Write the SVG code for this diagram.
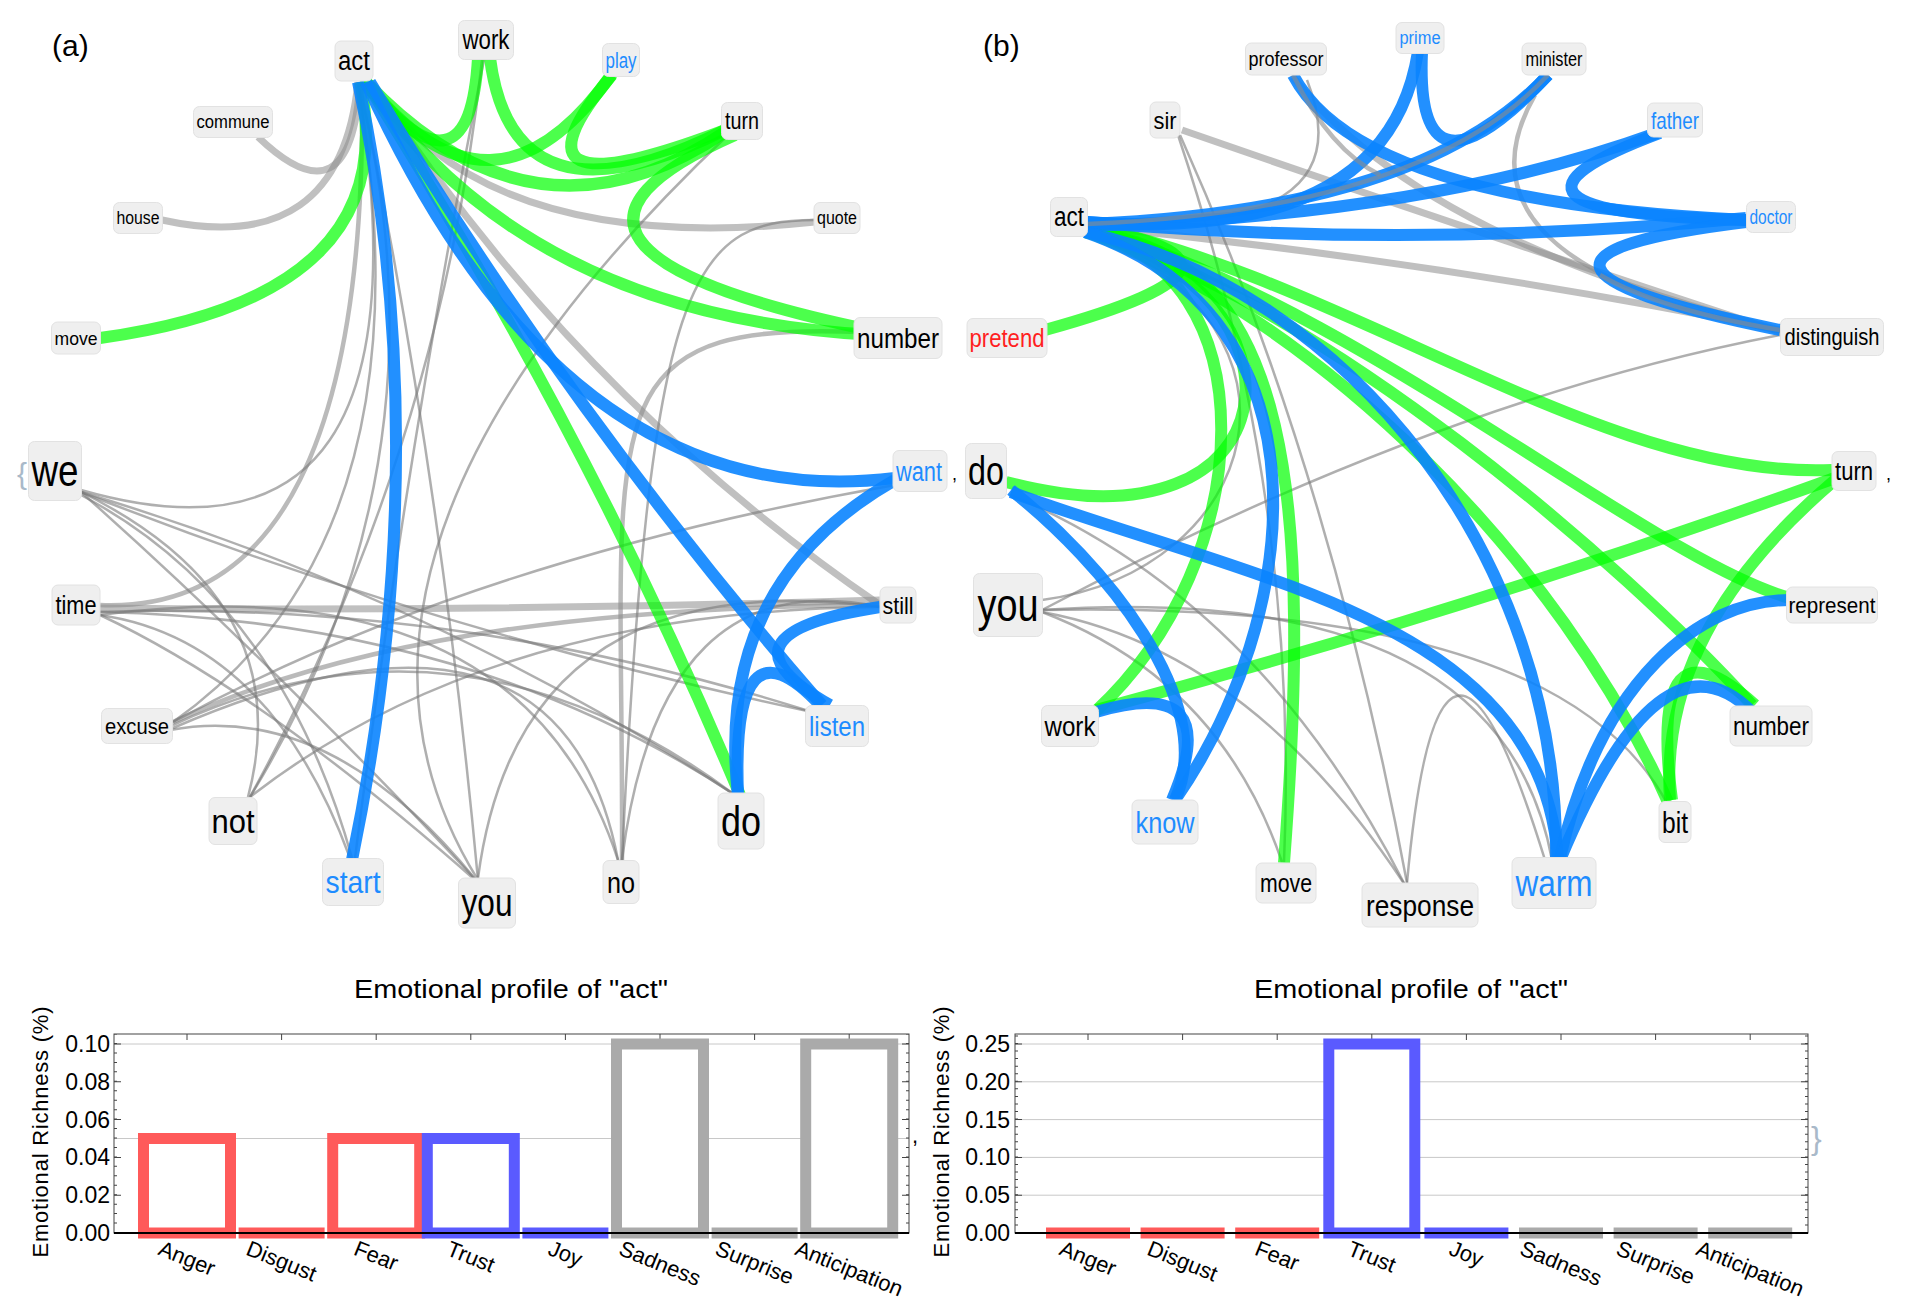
<svg xmlns="http://www.w3.org/2000/svg" width="1912" height="1315" viewBox="0 0 1912 1315">
<style>
.g{fill:none;stroke:#00ff00;stroke-opacity:.7;stroke-width:12}
.b{fill:none;stroke:#0a84ff;stroke-opacity:.9;stroke-width:12}
.gt{fill:none;stroke:#8c8c8c;stroke-opacity:.55;stroke-width:7}
.gm{fill:none;stroke:#8c8c8c;stroke-opacity:.6;stroke-width:4.5}
.gn{fill:none;stroke:#7a7a7a;stroke-opacity:.6;stroke-width:2.5}
.box{fill:#efefef;stroke:#e2e2e2;stroke-width:1}
text{font-family:"Liberation Sans",Arial,sans-serif}
.n{text-anchor:middle;fill:#000}
.nb{text-anchor:middle;fill:#1e8cff}
.nr{text-anchor:middle;fill:#ff1f1f}
.tk{font-size:23px;text-anchor:end;fill:#000}
.cat{font-size:22px;text-anchor:middle;fill:#000}
.frame{fill:none;stroke:#444;stroke-width:1}
.grid{stroke:#c8c8c8;stroke-width:1}
</style>
<rect width="1912" height="1315" fill="#fff"/>

<!-- ================= PANEL (a) ================= -->
<g id="edges-a">
 <path class="gt" d="M372,84 Q487,257 815,222"/>
 <path class="gt" d="M372,84 Q574,395 880,605"/>
 <path class="gt" d="M258,137 Q351,226 360,82"/>
 <path class="gt" d="M162,220 Q340,259 358,82"/>
 <path class="gt" d="M100,608 Q480,612 880,600"/>
 <path class="gm" d="M100,605 Q369,616 362,82"/>
 <path class="gm" d="M173,722 Q414,607 880,605"/>
 <path class="gm" d="M860,332 C580,320 624,420 622,860"/>
 <path class="gn" d="M815,220 C690,220 650,280 622,860"/>
 <path class="gn" d="M358,84 Q440,593 81,490"/>
 <path class="gn" d="M358,84 Q435,537 173,722"/>
 <path class="gn" d="M358,84 Q456,460 250,797"/>
 <path class="gn" d="M360,84 Q440,470 478,880"/>
 <path class="gn" d="M728,135 Q280,560 478,880"/>
 <path class="gn" d="M484,60 Q410,430 355,858"/>
 <path class="gn" d="M482,60 Q440,450 250,797"/>
 <path class="gn" d="M81,492 Q270,660 476,880"/>
 <path class="gn" d="M81,492 Q432,597 735,795"/>
 <path class="gn" d="M81,492 Q430,630 812,712"/>
 <path class="gn" d="M100,612 Q460,600 812,712"/>
 <path class="gn" d="M100,612 Q470,620 735,795"/>
 <path class="gn" d="M100,615 Q260,690 475,880"/>
 <path class="gn" d="M100,615 Q520,560 618,860"/>
 <path class="gn" d="M100,615 Q270,640 350,858"/>
 <path class="gn" d="M173,722 Q470,560 895,485"/>
 <path class="gn" d="M170,730 Q330,700 476,880"/>
 <path class="gn" d="M250,797 Q490,610 880,607"/>
 <path class="gn" d="M248,797 Q300,600 81,492"/>
 <path class="gn" d="M478,878 Q520,560 880,607"/>
 <path class="gn" d="M622,860 Q660,560 880,607"/>
 <path class="gn" d="M618,860 Q560,560 173,728"/>
 <path class="gn" d="M352,858 Q280,600 81,495"/>
 <path class="gn" d="M735,795 Q460,590 173,725"/>

 <path class="g" d="M360,82 Q406,296 100,338"/>
 <path class="g" d="M366,82 Q591,439 740,795"/>
 <path class="g" d="M366,82 Q528,317 875,335"/>
 <path class="g" d="M366,82 Q535,260 725,132"/>
 <path class="g" d="M364,80 Q492,243 612,74"/>
 <path class="g" d="M362,80 Q469,211 478,58"/>
 <path class="g" d="M490,58 Q513,236 725,130"/>
 <path class="g" d="M612,75 Q492,218 725,130"/>
 <path class="g" d="M735,135 Q478,248 870,330"/>

 <path class="b" d="M358,82 Q437,449 352,860"/>
 <path class="b" d="M366,82 Q564,519 895,478"/>
 <path class="b" d="M370,82 Q564,407 822,705"/>
 <path class="b" d="M895,480 Q714,583 738,795"/>
 <path class="b" d="M880,607 Q705,634 830,705"/>
 <path class="b" d="M738,795 Q731,610 820,705"/>
</g>

<g id="a-act"><rect class="box" x="335" y="41" width="38" height="40" rx="6"/><text class="n" x="354" y="70" font-size="27" textLength="32" lengthAdjust="spacingAndGlyphs">act</text></g>
<g id="a-work"><rect class="box" x="458.5" y="20.5" width="55" height="39" rx="6"/><text class="n" x="486" y="49" font-size="27" textLength="47" lengthAdjust="spacingAndGlyphs">work</text></g>
<g id="a-play"><rect class="box" x="602.5" y="43.5" width="37" height="33" rx="6"/><text class="nb" x="621" y="68" font-size="22" textLength="31" lengthAdjust="spacingAndGlyphs">play</text></g>
<g id="a-turn"><rect class="box" x="721.5" y="102.5" width="41" height="37" rx="6"/><text class="n" x="742" y="129" font-size="24" textLength="34" lengthAdjust="spacingAndGlyphs">turn</text></g>
<g id="a-commune"><rect class="box" x="193.5" y="106.5" width="79" height="31" rx="6"/><text class="n" x="233" y="128" font-size="18" textLength="73" lengthAdjust="spacingAndGlyphs">commune</text></g>
<g id="a-house"><rect class="box" x="113.5" y="202.5" width="49" height="31" rx="6"/><text class="n" x="138" y="224" font-size="18" textLength="43" lengthAdjust="spacingAndGlyphs">house</text></g>
<g id="a-quote"><rect class="box" x="814" y="202.5" width="46" height="31" rx="6"/><text class="n" x="837" y="224" font-size="18" textLength="40" lengthAdjust="spacingAndGlyphs">quote</text></g>
<g id="a-move"><rect class="box" x="51.5" y="322" width="49" height="32" rx="6"/><text class="n" x="76" y="344.5" font-size="19" textLength="43" lengthAdjust="spacingAndGlyphs">move</text></g>
<g id="a-number"><rect class="box" x="854" y="317.5" width="88" height="41" rx="6"/><text class="n" x="898" y="348" font-size="28" textLength="82" lengthAdjust="spacingAndGlyphs">number</text></g>
<g id="a-we"><rect class="box" x="28.5" y="441.5" width="53" height="59" rx="6"/><text class="n" x="55" y="486" font-size="44" textLength="47" lengthAdjust="spacingAndGlyphs">we</text></g>
<g id="a-want"><rect class="box" x="893" y="450.5" width="54" height="41" rx="6"/><text class="nb" x="919" y="480.5" font-size="27" textLength="46" lengthAdjust="spacingAndGlyphs">want</text></g>
<g id="a-time"><rect class="box" x="52" y="585" width="48" height="40" rx="6"/><text class="n" x="76" y="614" font-size="26" textLength="41" lengthAdjust="spacingAndGlyphs">time</text></g>
<g id="a-still"><rect class="box" x="880" y="587" width="36" height="36" rx="6"/><text class="n" x="898" y="613.5" font-size="24" textLength="31" lengthAdjust="spacingAndGlyphs">still</text></g>
<g id="a-excuse"><rect class="box" x="101.5" y="708.5" width="71" height="35" rx="6"/><text class="n" x="137" y="733.5" font-size="22" textLength="64" lengthAdjust="spacingAndGlyphs">excuse</text></g>
<g id="a-listen"><rect class="box" x="805.5" y="705.5" width="63" height="41" rx="6"/><text class="nb" x="837" y="735.5" font-size="27" textLength="56" lengthAdjust="spacingAndGlyphs">listen</text></g>
<g id="a-not"><rect class="box" x="209" y="797.5" width="48" height="47" rx="6"/><text class="n" x="233" y="833" font-size="34" textLength="43" lengthAdjust="spacingAndGlyphs">not</text></g>
<g id="a-do"><rect class="box" x="718" y="793" width="46" height="56" rx="6"/><text class="n" x="741" y="835.5" font-size="42" textLength="40" lengthAdjust="spacingAndGlyphs">do</text></g>
<g id="a-start"><rect class="box" x="322.5" y="858.5" width="61" height="47" rx="6"/><text class="nb" x="353" y="893" font-size="32" textLength="55" lengthAdjust="spacingAndGlyphs">start</text></g>
<g id="a-you"><rect class="box" x="458.5" y="878" width="57" height="50" rx="6"/><text class="n" x="487" y="916" font-size="38" textLength="51" lengthAdjust="spacingAndGlyphs">you</text></g>
<g id="a-no"><rect class="box" x="603" y="860.5" width="36" height="43" rx="6"/><text class="n" x="621" y="892.5" font-size="30" textLength="28" lengthAdjust="spacingAndGlyphs">no</text></g>

<!-- ================= PANEL (b) ================= -->
<g id="edges-b">
 <path class="gt" d="M1087,226 Q1430,260 1780,330"/>
 <path class="gt" d="M1182,130 Q1470,230 1780,332"/>
 <path class="gt" d="M1293,77 Q1420,240 1780,330"/>
 <path class="gm" d="M1535,95 Q1440,260 1780,332"/>
 <path class="gn" d="M1307,80 Q1370,240 1087,222"/>
 <path class="gn" d="M1180,135 Q1330,470 1407,883"/>
 <path class="gn" d="M1178,135 Q1300,500 1284,862"/>
 <path class="gn" d="M1042,610 Q1440,400 1780,335"/>
 <path class="gn" d="M1042,600 C1260,570 1330,330 1087,232"/>
 <path class="gn" d="M1042,610 Q1560,600 1668,805"/>
 <path class="gn" d="M1042,610 Q1500,580 1552,860"/>
 <path class="gn" d="M1042,612 Q1250,650 1405,885"/>
 <path class="gn" d="M1042,612 Q1220,680 1282,862"/>
 <path class="gn" d="M1407,883 Q1440,520 1545,860"/>
 <path class="gn" d="M1011,495 Q1260,600 1405,885"/>

 <path class="g" d="M1085,228 Q1295,261 1045,330"/>
 <path class="g" d="M1085,230 C1320,290 1300,560 1006,482"/>
 <path class="g" d="M1085,232 C1300,250 1310,520 1284,863"/>
 <path class="g" d="M1085,232 C1270,270 1260,560 1095,712"/>
 <path class="g" d="M1087,226 C1350,280 1600,480 1832,470"/>
 <path class="g" d="M1087,228 C1350,300 1650,560 1790,598"/>
 <path class="g" d="M1087,230 C1330,310 1620,560 1752,705"/>
 <path class="g" d="M1087,232 C1320,320 1560,560 1668,802"/>
 <path class="g" d="M1835,478 Q1470,610 1096,710"/>
 <path class="g" d="M1835,480 Q1658,630 1670,800"/>
 <path class="g" d="M1672,800 Q1647,608 1755,705"/>

 <path class="b" d="M1087,222 Q1387,244 1418,52"/>
 <path class="b" d="M1548,75 Q1423,210 1087,224"/>
 <path class="b" d="M1422,52 Q1415,217 1548,75"/>
 <path class="b" d="M1293,75 Q1360,202 1746,220"/>
 <path class="b" d="M1657,133 Q1428,216 1087,226"/>
 <path class="b" d="M1660,133 Q1447,213 1746,220"/>
 <path class="b" d="M1087,222 Q1420,250 1746,218"/>
 <path class="b" d="M1746,222 Q1437,260 1780,330"/>
 <path class="b" d="M1085,232 C1350,290 1560,560 1556,858"/>
 <path class="b" d="M1175,800 C1300,620 1340,320 1085,232"/>
 <path class="b" d="M1096,712 Q1226,674 1172,800"/>
 <path class="b" d="M1011,490 C1100,560 1220,700 1175,800"/>
 <path class="b" d="M1011,492 C1250,580 1540,620 1558,858"/>
 <path class="b" d="M1789,600 C1700,600 1600,680 1560,858"/>
 <path class="b" d="M1752,712 Q1660,620 1560,860"/>

 <path class="gm" d="M1548,75 Q1423,210 1087,224" stroke-opacity=".5"/>
 <path class="gm" d="M1293,75 Q1330,150 1380,175" stroke-opacity=".5"/>
 <path class="gm" d="M1600,275 Q1660,310 1780,330" stroke-opacity=".5"/>
</g>

<g id="b-prime"><rect class="box" x="1396" y="22.5" width="48" height="31" rx="6"/><text class="nb" x="1420" y="44" font-size="18" textLength="41" lengthAdjust="spacingAndGlyphs">prime</text></g>
<g id="b-professor"><rect class="box" x="1245.5" y="43" width="81" height="32" rx="6"/><text class="n" x="1286" y="66" font-size="20" textLength="75" lengthAdjust="spacingAndGlyphs">professor</text></g>
<g id="b-minister"><rect class="box" x="1522" y="43" width="64" height="32" rx="6"/><text class="n" x="1554" y="66" font-size="20" textLength="57" lengthAdjust="spacingAndGlyphs">minister</text></g>
<g id="b-sir"><rect class="box" x="1150" y="102" width="30" height="36" rx="6"/><text class="n" x="1165" y="128.5" font-size="24" textLength="23" lengthAdjust="spacingAndGlyphs">sir</text></g>
<g id="b-father"><rect class="box" x="1647.5" y="103" width="55" height="34" rx="6"/><text class="nb" x="1675" y="128.5" font-size="24" textLength="48" lengthAdjust="spacingAndGlyphs">father</text></g>
<g id="b-act"><rect class="box" x="1050.5" y="197.5" width="37" height="39" rx="6"/><text class="n" x="1069" y="226" font-size="27" textLength="30" lengthAdjust="spacingAndGlyphs">act</text></g>
<g id="b-doctor"><rect class="box" x="1746.5" y="201.5" width="49" height="31" rx="6"/><text class="nb" x="1771" y="224" font-size="20" textLength="43" lengthAdjust="spacingAndGlyphs">doctor</text></g>
<g id="b-pretend"><rect class="box" x="967" y="318.5" width="80" height="39" rx="6"/><text class="nr" x="1007" y="347" font-size="26" textLength="75" lengthAdjust="spacingAndGlyphs">pretend</text></g>
<g id="b-distinguish"><rect class="box" x="1780.5" y="318.5" width="103" height="37" rx="6"/><text class="n" x="1832" y="345" font-size="24" textLength="95" lengthAdjust="spacingAndGlyphs">distinguish</text></g>
<g id="b-do"><rect class="box" x="965.5" y="443.5" width="41" height="55" rx="6"/><text class="n" x="986" y="485" font-size="40" textLength="36" lengthAdjust="spacingAndGlyphs">do</text></g>
<g id="b-turn"><rect class="box" x="1832" y="451.5" width="44" height="39" rx="6"/><text class="n" x="1854" y="480" font-size="26" textLength="38" lengthAdjust="spacingAndGlyphs">turn</text></g>
<g id="b-you"><rect class="box" x="973.5" y="573.5" width="69" height="63" rx="6"/><text class="n" x="1008" y="621" font-size="46" textLength="61" lengthAdjust="spacingAndGlyphs">you</text></g>
<g id="b-represent"><rect class="box" x="1786.5" y="587" width="91" height="36" rx="6"/><text class="n" x="1832" y="612.5" font-size="22" textLength="87" lengthAdjust="spacingAndGlyphs">represent</text></g>
<g id="b-work"><rect class="box" x="1041.5" y="705.5" width="57" height="41" rx="6"/><text class="n" x="1070" y="735.5" font-size="27" textLength="51" lengthAdjust="spacingAndGlyphs">work</text></g>
<g id="b-number"><rect class="box" x="1730" y="706" width="82" height="40" rx="6"/><text class="n" x="1771" y="735" font-size="26" textLength="76" lengthAdjust="spacingAndGlyphs">number</text></g>
<g id="b-know"><rect class="box" x="1132" y="800" width="66" height="44" rx="6"/><text class="nb" x="1165" y="832.5" font-size="30" textLength="59" lengthAdjust="spacingAndGlyphs">know</text></g>
<g id="b-bit"><rect class="box" x="1659" y="801.5" width="32" height="41" rx="6"/><text class="n" x="1675" y="832.5" font-size="30" textLength="26" lengthAdjust="spacingAndGlyphs">bit</text></g>
<g id="b-move"><rect class="box" x="1256" y="863" width="60" height="40" rx="6"/><text class="n" x="1286" y="892" font-size="26" textLength="52" lengthAdjust="spacingAndGlyphs">move</text></g>
<g id="b-warm"><rect class="box" x="1512" y="857.5" width="84" height="51" rx="6"/><text class="nb" x="1554" y="895.5" font-size="36" textLength="77" lengthAdjust="spacingAndGlyphs">warm</text></g>
<g id="b-response"><rect class="box" x="1362" y="883" width="116" height="44" rx="6"/><text class="n" x="1420" y="915.5" font-size="30" textLength="108" lengthAdjust="spacingAndGlyphs">response</text></g>

<!-- panel labels and separators -->
<text x="52" y="56" font-size="30" fill="#000">(a)</text>
<text x="983" y="56" font-size="30" fill="#000">(b)</text>
<text x="17" y="484" font-size="30" fill="#a9b9c9">{</text>
<text x="952" y="480" font-size="18" fill="#000">,</text>
<text x="1886" y="480" font-size="18" fill="#000">,</text>
<text x="912" y="1143" font-size="22" fill="#000">,</text>
<text x="1811" y="1149" font-size="32" fill="#a9b9c9">}</text>

<!-- ================= CHART (a) ================= -->
<g id="chart-a">
 <text x="511" y="998" font-size="26" text-anchor="middle" textLength="314" lengthAdjust="spacingAndGlyphs">Emotional profile of "act"</text>
 <text transform="translate(48,1132) rotate(-90)" font-size="22" text-anchor="middle" textLength="251" lengthAdjust="spacing">Emotional Richness (%)</text>
 <line class="grid" x1="114" y1="1044" x2="909" y2="1044"/>
 <line class="grid" x1="114" y1="1138.5" x2="909" y2="1138.5"/>
 <rect class="frame" x="114" y="1034" width="795" height="199"/>
 <line x1="115.5" y1="1233" x2="115.5" y2="1034" stroke="#444" stroke-width="3" stroke-dasharray="1 8.45"/>
 <line x1="117.5" y1="1233.5" x2="117.5" y2="1034" stroke="#444" stroke-width="7" stroke-dasharray="1 36.8"/>
 <line x1="907.5" y1="1233" x2="907.5" y2="1034" stroke="#444" stroke-width="3" stroke-dasharray="1 8.45"/>
 <line x1="905.5" y1="1233.5" x2="905.5" y2="1034" stroke="#444" stroke-width="7" stroke-dasharray="1 36.8"/>
 <path d="M187,1034v6M281.6,1034v6M376.2,1034v6M470.8,1034v6M565.4,1034v6M660,1034v6M754.6,1034v6M849.2,1034v6" stroke="#444"/>
 <g fill="#fff" stroke-width="11">
  <rect x="143.5" y="1138.5" width="87" height="94.5" stroke="#ff5a5a"/>
  <rect x="332.7" y="1138.5" width="87" height="94.5" stroke="#ff5a5a"/>
  <rect x="427.3" y="1138.5" width="87" height="94.5" stroke="#5a5aff"/>
  <rect x="616.5" y="1044" width="87" height="189" stroke="#aaaaaa"/>
  <rect x="805.7" y="1044" width="87" height="189" stroke="#aaaaaa"/>
 </g>
 <rect x="238.6" y="1227.5" width="86" height="11" fill="#ff5a5a"/>
 <rect x="522.4" y="1227.5" width="86" height="11" fill="#5a5aff"/>
 <rect x="711.6" y="1227.5" width="86" height="11" fill="#aaaaaa"/>
 <line x1="114" y1="1233" x2="909" y2="1233" stroke="#000" stroke-width="2"/>
 <text class="tk" x="110" y="1052">0.10</text>
 <text class="tk" x="110" y="1090">0.08</text>
 <text class="tk" x="110" y="1128">0.06</text>
 <text class="tk" x="110" y="1165">0.04</text>
 <text class="tk" x="110" y="1203">0.02</text>
 <text class="tk" x="110" y="1241">0.00</text>
 <text class="cat" x="187" y="1265.8" transform="rotate(22 187 1258.3)">Anger</text>
 <text class="cat" x="281.6" y="1268.5" transform="rotate(22 281.6 1261)">Disgust</text>
 <text class="cat" x="376.2" y="1263.2" transform="rotate(22 376.2 1255.7)">Fear</text>
 <text class="cat" x="470.8" y="1264.2" transform="rotate(22 470.8 1256.7)">Trust</text>
 <text class="cat" x="565.4" y="1261.2" transform="rotate(22 565.4 1253.7)">Joy</text>
 <text class="cat" x="660" y="1270.8" transform="rotate(22 660 1263.3)">Sadness</text>
 <text class="cat" x="754.6" y="1270.1" transform="rotate(22 754.6 1262.6)">Surprise</text>
 <text class="cat" x="849.2" y="1276.1" transform="rotate(22 849.2 1268.6)">Anticipation</text>
</g>

<!-- ================= CHART (b) ================= -->
<g id="chart-b">
 <text x="1411" y="998" font-size="26" text-anchor="middle" textLength="314" lengthAdjust="spacingAndGlyphs">Emotional profile of "act"</text>
 <text transform="translate(949,1132) rotate(-90)" font-size="22" text-anchor="middle" textLength="251" lengthAdjust="spacing">Emotional Richness (%)</text>
 <g class="grid">
  <line x1="1015" y1="1044" x2="1808" y2="1044"/>
  <line x1="1015" y1="1081.8" x2="1808" y2="1081.8"/>
  <line x1="1015" y1="1119.6" x2="1808" y2="1119.6"/>
  <line x1="1015" y1="1157.4" x2="1808" y2="1157.4"/>
  <line x1="1015" y1="1195.2" x2="1808" y2="1195.2"/>
 </g>
 <rect class="frame" x="1015" y="1034" width="793" height="199"/>
 <line x1="1016.5" y1="1233" x2="1016.5" y2="1034" stroke="#444" stroke-width="3" stroke-dasharray="1 6.56"/>
 <line x1="1018.5" y1="1233.5" x2="1018.5" y2="1034" stroke="#444" stroke-width="7" stroke-dasharray="1 36.8"/>
 <line x1="1806.5" y1="1233" x2="1806.5" y2="1034" stroke="#444" stroke-width="3" stroke-dasharray="1 6.56"/>
 <line x1="1804.5" y1="1233.5" x2="1804.5" y2="1034" stroke="#444" stroke-width="7" stroke-dasharray="1 36.8"/>
 <path d="M1088,1034v6M1182.6,1034v6M1277.2,1034v6M1371.8,1034v6M1466.4,1034v6M1561,1034v6M1655.6,1034v6M1750.2,1034v6" stroke="#444"/>
 <rect x="1328.8" y="1044" width="86" height="189" fill="#fff" stroke="#5a5aff" stroke-width="11"/>
 <rect x="1046" y="1227.5" width="84" height="11" fill="#ff5a5a"/>
 <rect x="1140.6" y="1227.5" width="84" height="11" fill="#ff5a5a"/>
 <rect x="1235.2" y="1227.5" width="84" height="11" fill="#ff5a5a"/>
 <rect x="1424.4" y="1227.5" width="84" height="11" fill="#5a5aff"/>
 <rect x="1519" y="1227.5" width="84" height="11" fill="#aaaaaa"/>
 <rect x="1613.6" y="1227.5" width="84" height="11" fill="#aaaaaa"/>
 <rect x="1708.2" y="1227.5" width="84" height="11" fill="#aaaaaa"/>
 <line x1="1015" y1="1233" x2="1808" y2="1233" stroke="#000" stroke-width="2"/>
 <text class="tk" x="1010" y="1052">0.25</text>
 <text class="tk" x="1010" y="1090">0.20</text>
 <text class="tk" x="1010" y="1128">0.15</text>
 <text class="tk" x="1010" y="1165">0.10</text>
 <text class="tk" x="1010" y="1203">0.05</text>
 <text class="tk" x="1010" y="1241">0.00</text>
 <text class="cat" x="1088" y="1265.8" transform="rotate(22 1088 1258.3)">Anger</text>
 <text class="cat" x="1182.6" y="1268.5" transform="rotate(22 1182.6 1261)">Disgust</text>
 <text class="cat" x="1277.2" y="1263.2" transform="rotate(22 1277.2 1255.7)">Fear</text>
 <text class="cat" x="1371.8" y="1264.2" transform="rotate(22 1371.8 1256.7)">Trust</text>
 <text class="cat" x="1466.4" y="1261.2" transform="rotate(22 1466.4 1253.7)">Joy</text>
 <text class="cat" x="1561" y="1270.8" transform="rotate(22 1561 1263.3)">Sadness</text>
 <text class="cat" x="1655.6" y="1270.1" transform="rotate(22 1655.6 1262.6)">Surprise</text>
 <text class="cat" x="1750.2" y="1276.1" transform="rotate(22 1750.2 1268.6)">Anticipation</text>
</g>
</svg>
